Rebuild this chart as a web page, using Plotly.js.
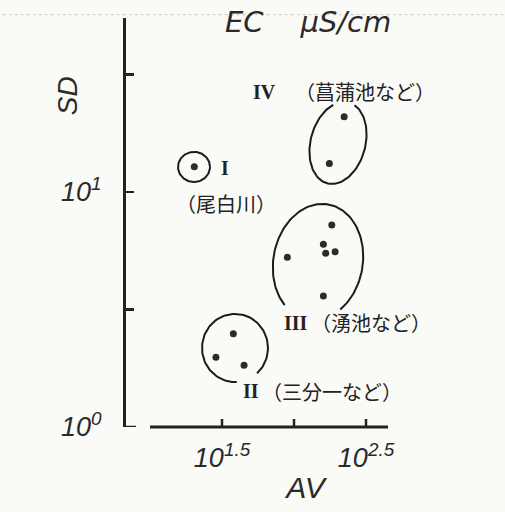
<!DOCTYPE html>
<html>
<head>
<meta charset="utf-8">
<script src="https://cdn.plot.ly/plotly-3.0.1.min.js"></script>
<style>html,body{margin:0;padding:0;background:#fafaf7;}</style>
</head>
<body>
<div id="chart" style="width:505px;height:512px;"></div>
<script>
// ---- data (AV, SD) ----
const groupI_AV   = [20.3];
const groupI_SD   = [12.8];
const groupII_AV  = [37.9, 28.7, 45.0];
const groupII_SD  = [2.49, 1.98, 1.83];
const groupIII_AV = [183, 160, 166, 193, 89.9, 160];
const groupIII_SD = [7.24, 5.99, 5.49, 5.57, 5.27, 3.61];
const groupIV_AV  = [223, 176];
const groupIV_SD  = [20.9, 13.2];

const xTickVals = [31.62, 316.2];
const xTickText = ['10<sup>1.5</sup>', '10<sup>2.5</sup>'];
const xMinorVals = [100];
const yTickVals = [1, 10];
const yTickText = ['10<sup>0</sup>', '10<sup>1</sup>'];
const yMinorVals = [3.162, 31.62];
const xAxisLineSpan = [10, 450];

const groupNames = ['I', 'II', 'III', 'IV'];
const groupPlaces = ['（尾白川）', '（三分一など）', '（湧池など）', '（菖蒲池など）'];

// ---- outline geometry (log10 units) ----
const outlines = [
  {cx: 1.3056, cy: 1.1064, rx: 0.111, ry: 0.064, sk: 0,     t0: 0,   t1: 360},
  {cx: 1.5903, cy: 0.3362, rx: 0.229, ry: 0.145, sk: 0,     t0: 312, t1: 633},
  {cx: 2.1667, cy: 0.7021, rx: 0.3125, ry: 0.247, sk: 0.03, t0: 305, t1: 588},
  {cx: 2.3056, cy: 1.2085, rx: 0.194, ry: 0.1745, sk: 0.042, t0: 112, t1: 427}
];

function outline(o) {
  const xs = [], ys = [], N = 120;
  for (let i = 0; i <= N; i++) {
    const t = (o.t0 + (o.t1 - o.t0) * i / N) * Math.PI / 180;
    const lx = o.cx + o.rx * Math.cos(t) + o.sk * Math.sin(t);
    const ly = o.cy + o.ry * Math.sin(t);
    xs.push(Math.pow(10, lx));
    ys.push(Math.pow(10, ly));
  }
  return {x: xs, y: ys, mode: 'lines', type: 'scatter', hoverinfo: 'skip',
          showlegend: false, line: {color: '#1c1c1c', width: 2}};
}

const ink = '#222';
const dotStyle = {size: 7, color: '#2b2b2b'};
const traces = outlines.map(outline);
[[groupI_AV, groupI_SD], [groupII_AV, groupII_SD], [groupIII_AV, groupIII_SD], [groupIV_AV, groupIV_SD]]
  .forEach((g, i) => traces.push({x: g[0], y: g[1], mode: 'markers', type: 'scatter',
    name: groupNames[i], showlegend: false, marker: dotStyle}));

const italic = {family: 'Liberation Sans, Arial, sans-serif', style: 'italic', color: '#2a2a2a'};
const wideItalic = {family: 'DejaVu Sans, sans-serif', style: 'italic', color: '#2a2a2a'};
const serifB = {family: 'Liberation Serif, Times New Roman, serif', weight: 'bold', size: 20, color: ink};
const cjk = {family: 'Noto Sans CJK JP, sans-serif', size: 20, color: ink};

// label positions (log units)
const nameLabelPos  = [[1.521, 1.102], [1.701, 0.153], [2.017, 0.443], [1.792, 1.426]];
const placeLabelPos = [[1.528, 0.949], [2.264, 0.153], [2.535, 0.443], [2.490, 1.426]];

const annotations = [];
groupNames.forEach((n, i) => {
  annotations.push({x: nameLabelPos[i][0], y: nameLabelPos[i][1], xref: 'x', yref: 'y',
    text: n, showarrow: false, font: serifB, xanchor: 'center', yanchor: 'middle'});
  annotations.push({x: placeLabelPos[i][0], y: placeLabelPos[i][1], xref: 'x', yref: 'y',
    text: groupPlaces[i], showarrow: false, font: cjk, xanchor: 'center', yanchor: 'middle'});
});
annotations.push({x: 0.5056, y: 0.99, xref: 'paper', yref: 'paper', text: 'EC\u00a0\u00a0\u00a0\u00a0μS/cm',
  showarrow: false, font: Object.assign({size: 29}, wideItalic), xanchor: 'center', yanchor: 'middle'});
annotations.push({x: -0.164, y: 0.809, xref: 'paper', yref: 'paper', text: 'SD', textangle: -90,
  showarrow: false, font: Object.assign({size: 28}, italic), xanchor: 'center', yanchor: 'middle'});

const tickLine = {color: ink, width: 2.5};
const shapes = [
  {type: 'line', xref: 'x', yref: 'paper', x0: xAxisLineSpan[0], x1: xAxisLineSpan[1], y0: 0, y1: 0,
   line: {color: ink, width: 3}},
  {type: 'line', xref: 'paper', yref: 'paper', x0: -0.36, x1: 1.06, y0: 1.008, y1: 1.008,
   line: {color: '#c8c8c8', width: 1, dash: 'dot'}},
  // foot of the SD axis at its lowest tick
  {type: 'line', xref: 'paper', xsizemode: 'pixel', xanchor: 0, x0: 0, x1: 10,
   yref: 'y', y0: yTickVals[0], y1: yTickVals[0], line: tickLine}
];
// upward ticks on the AV axis line
xTickVals.concat(xMinorVals).forEach(v => shapes.push({type: 'line', xref: 'x', x0: v, x1: v,
  yref: 'paper', ysizemode: 'pixel', yanchor: 0, y0: 0, y1: 8, line: tickLine}));

const layout = {
  width: 505, height: 512,
  margin: {l: 126, r: 20, t: 18, b: 85},
  paper_bgcolor: '#fafaf7', plot_bgcolor: '#fafaf7',
  showlegend: false,
  xaxis: {type: 'log', range: [0.8333, 3.3264], showline: false, showgrid: false, zeroline: false,
    ticks: 'inside', ticklen: 7, tickwidth: 2.5, tickcolor: ink,
    tickvals: xTickVals, ticktext: xTickText, tickfont: Object.assign({size: 27}, italic),
    ticklabelstandoff: 12,
    minor: {tickvals: xMinorVals, ticks: 'inside', ticklen: 7, tickwidth: 2.5, tickcolor: ink, showgrid: false},
    title: {text: 'AV', font: Object.assign({size: 30}, italic), standoff: 4}},
  yaxis: {type: 'log', range: [0, 1.74], showline: true, linewidth: 3, linecolor: ink,
    showgrid: false, zeroline: false,
    ticks: 'inside', ticklen: 8, tickwidth: 2.5, tickcolor: ink,
    tickvals: yTickVals, ticktext: yTickText, tickfont: Object.assign({size: 27}, italic),
    ticklabelstandoff: 16,
    minor: {tickvals: yMinorVals, ticks: 'inside', ticklen: 8, tickwidth: 2.5, tickcolor: ink, showgrid: false}},
  shapes: shapes,
  annotations: annotations
};

Plotly.newPlot('chart', traces, layout, {displayModeBar: false, staticPlot: true});
</script>
</body>
</html>
